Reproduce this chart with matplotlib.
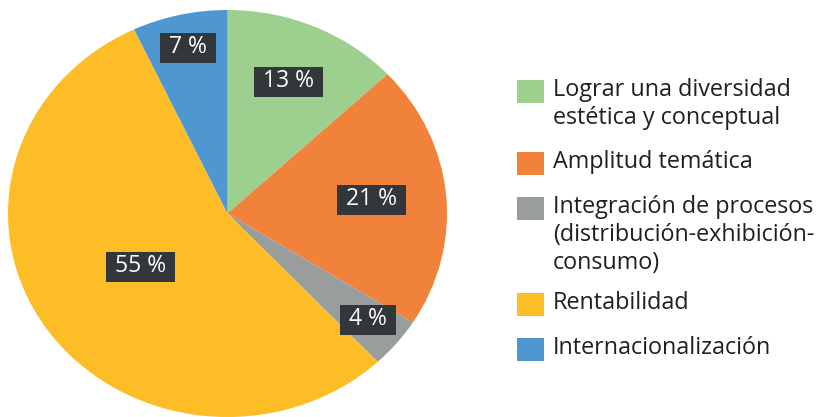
import matplotlib
matplotlib.use("Agg")
import matplotlib.pyplot as plt
from matplotlib.patches import Rectangle
import numpy as np

categories = ["Lograr una diversidad\nestética y conceptual",
              "Amplitud temática",
              "Integración de procesos\n(distribución-exhibición-\nconsumo)",
              "Rentabilidad",
              "Internacionalización"]
values = [13, 21, 4, 55, 7]
value_labels = ["13 %", "21 %", "4 %", "55 %", "7 %"]
colors = ["#9dd08f", "#f0823c", "#999d9d", "#fdbd27", "#4f97d0"]
label_radii = [0.70, 0.66, 0.83, 0.48, 0.83]

plt.rcParams['font.family'] = ['Open Sans', 'DejaVu Sans']

fig = plt.figure(figsize=(8.27, 4.17), dpi=100)
W, H = 827, 417
ax = fig.add_axes([8 / W, 1 - 417 / H, 439 / W, 407 / H])
wedges, _ = ax.pie(values, colors=colors, startangle=90, counterclock=False,
                   wedgeprops=dict(linewidth=0))
ax.set_aspect('auto')
ax.set_xlim(-1, 1)
ax.set_ylim(-1, 1)

total = sum(values)
cum = np.cumsum([0] + values[:-1])
texts = []
for v, c0, r, lab in zip(values, cum, label_radii, value_labels):
    mid = (c0 + v / 2) / total * 360
    ang = np.deg2rad(90 - mid)
    t = ax.text(r * np.cos(ang), r * np.sin(ang) + 0.01, lab, ha='center', va='center',
                color='white', fontsize=16.5, zorder=5)
    texts.append(t)

fig.canvas.draw()
renderer = fig.canvas.get_renderer()
for t in texts:
    bb = t.get_window_extent(renderer)
    cx = (bb.x0 + bb.x1) / 2
    cy = (bb.y0 + bb.y1) / 2
    w = bb.width + 18
    h = 30
    fig.patches.append(Rectangle(((cx - w / 2) / W, (cy - h / 2 - 1) / H), w / W, h / H,
                                 transform=fig.transFigure, fc='#33373b', ec='none',
                                 zorder=4))
    t.set_zorder(5)
# draw labels above boxes: move them to the figure layer
for t in texts:
    x, y = t.get_position()
    disp = ax.transData.transform((x, y))
    t.remove()
    fig.text(disp[0] / W, disp[1] / H, t.get_text(), ha='center', va='center',
             color='white', fontsize=16.5, zorder=6)

# legend
sq_top = [80, 152, 197, 293, 338]
for cat, col, top in zip(categories, colors, sq_top):
    fig.patches.append(Rectangle((517 / W, 1 - (top + 23) / H), 27 / W, 23 / H,
                                 transform=fig.transFigure, fc=col, ec='none'))
    fig.text(553 / W, 1 - (top - 2) / H, cat, ha='left', va='top',
             fontsize=16.8, color='#231f20', linespacing=1.22)

fig.savefig("out.png", dpi=100)
